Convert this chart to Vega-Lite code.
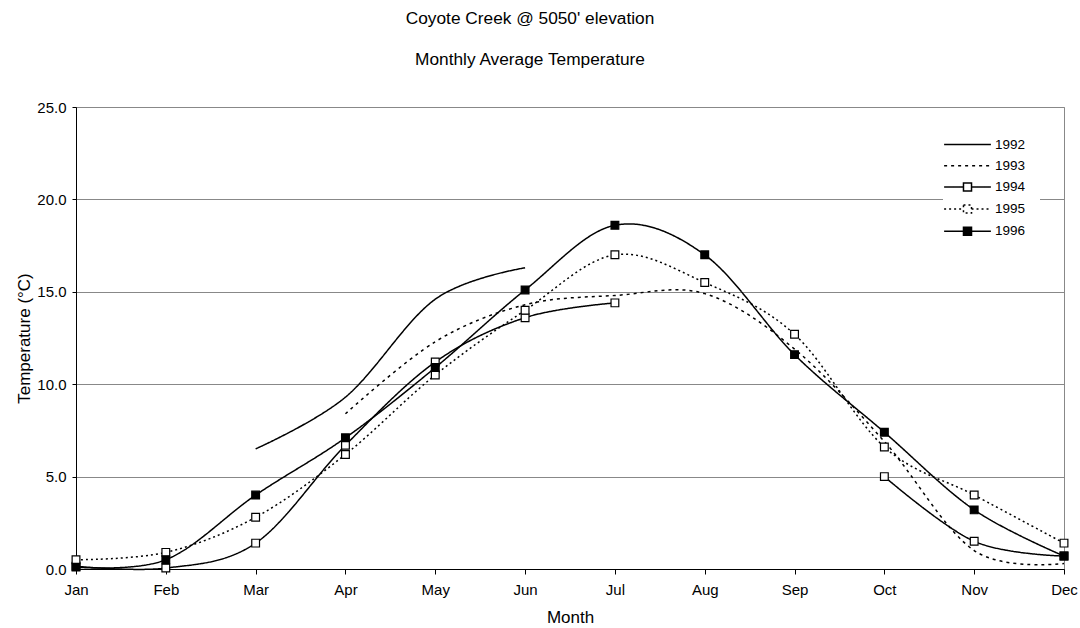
{
  "$schema": "https://vega.github.io/schema/vega-lite/v6.json",
  "width": 988,
  "height": 462,
  "autosize": {"type": "none"},
  "padding": {"left": 76, "top": 107, "right": 16, "bottom": 59},
  "background": "white",
  "title": {
    "text": "Coyote Creek @ 5050' elevation",
    "subtitle": "Monthly Average Temperature",
    "font": "Liberation Sans",
    "fontSize": 17.3,
    "fontWeight": "normal",
    "color": "black",
    "subtitleFont": "Liberation Sans",
    "subtitleFontSize": 17.3,
    "subtitleColor": "black",
    "subtitlePadding": 23,
    "offset": 32,
    "anchor": "middle",
    "dx": -40
  },
  "config": {
    "view": {"stroke": "#888", "strokeWidth": 1},
    "axis": {
      "labelFont": "Liberation Sans",
      "titleFont": "Liberation Sans",
      "labelColor": "black",
      "titleColor": "black",
      "labelFontSize": 15,
      "titleFontSize": 17,
      "titleFontWeight": "normal",
      "domainColor": "black",
      "tickColor": "black"
    },
    "legend": {
      "labelFont": "Liberation Sans",
      "labelFontSize": 13.5,
      "labelColor": "black"
    }
  },
  "data": {
    "values": [
      {"month": "Mar", "year": "1992", "seg": "a", "temp": 6.5},
      {"month": "Apr", "year": "1992", "seg": "a", "temp": 9.3},
      {"month": "May", "year": "1992", "seg": "a", "temp": 14.6},
      {"month": "Jun", "year": "1992", "seg": "a", "temp": 16.3},

      {"month": "Apr", "year": "1993", "seg": "a", "temp": 8.4},
      {"month": "May", "year": "1993", "seg": "a", "temp": 12.3},
      {"month": "Jun", "year": "1993", "seg": "a", "temp": 14.3},
      {"month": "Jul", "year": "1993", "seg": "a", "temp": 14.8},
      {"month": "Aug", "year": "1993", "seg": "a", "temp": 14.9},
      {"month": "Sep", "year": "1993", "seg": "a", "temp": 11.9},
      {"month": "Oct", "year": "1993", "seg": "a", "temp": 6.9},
      {"month": "Nov", "year": "1993", "seg": "a", "temp": 1.0},
      {"month": "Dec", "year": "1993", "seg": "a", "temp": 0.3},

      {"month": "Jan", "year": "1994", "seg": "a", "temp": 0.15},
      {"month": "Feb", "year": "1994", "seg": "a", "temp": 0.05},
      {"month": "Mar", "year": "1994", "seg": "a", "temp": 1.4},
      {"month": "Apr", "year": "1994", "seg": "a", "temp": 6.7},
      {"month": "May", "year": "1994", "seg": "a", "temp": 11.2},
      {"month": "Jun", "year": "1994", "seg": "a", "temp": 13.6},
      {"month": "Jul", "year": "1994", "seg": "a", "temp": 14.4},
      {"month": "Oct", "year": "1994", "seg": "b", "temp": 5.0},
      {"month": "Nov", "year": "1994", "seg": "b", "temp": 1.5},
      {"month": "Dec", "year": "1994", "seg": "b", "temp": 0.7},

      {"month": "Jan", "year": "1995", "seg": "a", "temp": 0.5},
      {"month": "Feb", "year": "1995", "seg": "a", "temp": 0.9},
      {"month": "Mar", "year": "1995", "seg": "a", "temp": 2.8},
      {"month": "Apr", "year": "1995", "seg": "a", "temp": 6.2},
      {"month": "May", "year": "1995", "seg": "a", "temp": 10.5},
      {"month": "Jun", "year": "1995", "seg": "a", "temp": 14.0},
      {"month": "Jul", "year": "1995", "seg": "a", "temp": 17.0},
      {"month": "Aug", "year": "1995", "seg": "a", "temp": 15.5},
      {"month": "Sep", "year": "1995", "seg": "a", "temp": 12.7},
      {"month": "Oct", "year": "1995", "seg": "a", "temp": 6.6},
      {"month": "Nov", "year": "1995", "seg": "a", "temp": 4.0},
      {"month": "Dec", "year": "1995", "seg": "a", "temp": 1.4},

      {"month": "Jan", "year": "1996", "seg": "a", "temp": 0.1},
      {"month": "Feb", "year": "1996", "seg": "a", "temp": 0.5},
      {"month": "Mar", "year": "1996", "seg": "a", "temp": 4.0},
      {"month": "Apr", "year": "1996", "seg": "a", "temp": 7.1},
      {"month": "May", "year": "1996", "seg": "a", "temp": 10.9},
      {"month": "Jun", "year": "1996", "seg": "a", "temp": 15.1},
      {"month": "Jul", "year": "1996", "seg": "a", "temp": 18.6},
      {"month": "Aug", "year": "1996", "seg": "a", "temp": 17.0},
      {"month": "Sep", "year": "1996", "seg": "a", "temp": 11.6},
      {"month": "Oct", "year": "1996", "seg": "a", "temp": 7.4},
      {"month": "Nov", "year": "1996", "seg": "a", "temp": 3.2},
      {"month": "Dec", "year": "1996", "seg": "a", "temp": 0.7}
    ]
  },
  "encoding": {
    "x": {
      "field": "month",
      "type": "ordinal",
      "sort": ["Jan", "Feb", "Mar", "Apr", "May", "Jun", "Jul", "Aug", "Sep", "Oct", "Nov", "Dec"],
      "scale": {"type": "point", "padding": 0, "domain": ["Jan", "Feb", "Mar", "Apr", "May", "Jun", "Jul", "Aug", "Sep", "Oct", "Nov", "Dec"]},
      "axis": {
        "title": "Month",
        "labelAngle": 0,
        "grid": false,
        "tickSize": 5,
        "labelPadding": 8,
        "titlePadding": 12
      }
    },
    "y": {
      "field": "temp",
      "type": "quantitative",
      "scale": {"domain": [0, 25], "nice": false, "zero": true},
      "axis": {
        "title": "Temperature (°C)",
        "values": [0, 5, 10, 15, 20, 25],
        "format": ".1f",
        "grid": true,
        "gridColor": "#888",
        "gridWidth": 1,
        "tickSize": 4,
        "labelPadding": 6,
        "titlePadding": 3
      }
    }
  },
  "layer": [
    {
      "mark": {"type": "line", "interpolate": "cardinal", "color": "black", "strokeWidth": 1.5},
      "encoding": {
        "detail": {"field": "seg", "type": "nominal"},
        "strokeDash": {
          "field": "year",
          "type": "nominal",
          "scale": {
            "domain": ["1992", "1993", "1994", "1995", "1996"],
            "range": [[1, 0], [3, 4], [1, 0], [2, 3], [1, 0]]
          },
          "legend": {
            "title": null,
            "orient": "none",
            "legendX": 867,
            "legendY": 13,
            "symbolType": "M-2.5,0H2.5",
            "symbolSize": 350,
            "symbolStrokeColor": "black",
            "symbolStrokeWidth": 1.5,
            "rowPadding": 4.2,
            "labelOffset": 17,
            "fillColor": "white",
            "padding": 14,
            "encode": {
              "symbols": {
                "update": {
                  "shape": {"signal": "datum.value == '1992' || datum.value == '1993' ? 'M-2.5,0H2.5' : 'M-2.5,0H-0.43M0.43,0H2.5M-0.43,-0.43H0.43V0.43H-0.43Z'"},
                  "fill": {"signal": "datum.value == '1996' ? 'black' : 'white'"},
                  "stroke": {"value": "black"}
                }
              }
            }
          }
        }
      }
    },
    {
      "transform": [{"filter": "datum.year == '1994' || datum.year == '1995' || datum.year == '1996'"}],
      "mark": {"type": "point", "shape": "square", "size": 60, "stroke": "black", "strokeWidth": 1.2, "opacity": 1, "filled": false},
      "encoding": {
        "fill": {
          "field": "year",
          "type": "nominal",
          "scale": {"domain": ["1994", "1995", "1996"], "range": ["white", "white", "black"]},
          "legend": null
        }
      }
    }
  ]
}
